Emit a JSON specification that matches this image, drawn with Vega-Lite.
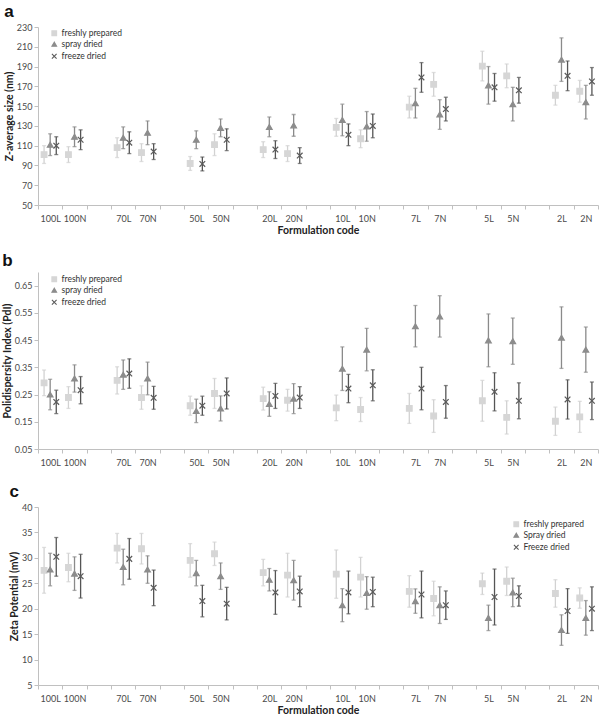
{
  "$schema": "https://vega.github.io/schema/vega-lite/v6.json",
  "padding": {"left": 2, "top": 3, "right": 2, "bottom": 1},
  "spacing": 16,
  "config": {
    "view": {"stroke": null},
    "font": "Lato",
    "title": {"anchor": "start", "fontSize": 17, "font": "Liberation Sans", "fontWeight": "bold", "offset": 2, "color": "#111"},
    "axis": {"domainColor": "#c0c0c0", "tickColor": "#c0c0c0", "labelColor": "#4a4a4a", "labelFont": "Lato", "labelFontSize": 9, "titleFont": "Lato", "titleFontSize": 10.5, "titleFontWeight": "bold", "titleColor": "#222", "grid": false, "tickSize": 4},
    "axisX": {"labelAngle": 0, "tickBand": "extent", "labelPadding": 5, "titlePadding": 2},
    "axisY": {"labelPadding": 2, "titlePadding": 2},
    "legend": {"title": null, "labelFont": "Lato", "labelFontSize": 8.5, "labelColor": "#333", "symbolSize": 22, "rowPadding": 2, "symbolStrokeWidth": 1.1, "labelOffset": 3, "padding": 0}
  },
  "datasets": {
    "a": [
      {"code":"100L","s":"freshly prepared","v":101,"lo":92,"hi":110},
      {"code":"100L","s":"spray dried","v":111,"lo":100,"hi":122},
      {"code":"100L","s":"freeze dried","v":110,"lo":101,"hi":119},
      {"code":"100N","s":"freshly prepared","v":101,"lo":93,"hi":109},
      {"code":"100N","s":"spray dried","v":119,"lo":109,"hi":129},
      {"code":"100N","s":"freeze dried","v":116,"lo":106,"hi":126},
      {"code":"70L","s":"freshly prepared","v":108,"lo":98,"hi":118},
      {"code":"70L","s":"spray dried","v":118,"lo":107,"hi":129},
      {"code":"70L","s":"freeze dried","v":113,"lo":102,"hi":124},
      {"code":"70N","s":"freshly prepared","v":103,"lo":94,"hi":112},
      {"code":"70N","s":"spray dried","v":123,"lo":111,"hi":135},
      {"code":"70N","s":"freeze dried","v":104,"lo":96,"hi":112},
      {"code":"50L","s":"freshly prepared","v":92,"lo":85,"hi":99},
      {"code":"50L","s":"spray dried","v":116,"lo":107,"hi":125},
      {"code":"50L","s":"freeze dried","v":91.5,"lo":84.5,"hi":98.5},
      {"code":"50N","s":"freshly prepared","v":111,"lo":100,"hi":122},
      {"code":"50N","s":"spray dried","v":128,"lo":119,"hi":137},
      {"code":"50N","s":"freeze dried","v":116,"lo":105,"hi":127},
      {"code":"20L","s":"freshly prepared","v":106,"lo":98,"hi":114},
      {"code":"20L","s":"spray dried","v":129,"lo":119,"hi":139},
      {"code":"20L","s":"freeze dried","v":106,"lo":97,"hi":115},
      {"code":"20N","s":"freshly prepared","v":102,"lo":94,"hi":110},
      {"code":"20N","s":"spray dried","v":130.5,"lo":119.5,"hi":141.5},
      {"code":"20N","s":"freeze dried","v":100,"lo":92,"hi":108},
      {"code":"10L","s":"freshly prepared","v":128.5,"lo":119.5,"hi":137.5},
      {"code":"10L","s":"spray dried","v":136,"lo":120,"hi":152},
      {"code":"10L","s":"freeze dried","v":121,"lo":110,"hi":132},
      {"code":"10N","s":"freshly prepared","v":117,"lo":108,"hi":126},
      {"code":"10N","s":"spray dried","v":129.5,"lo":114.5,"hi":144.5},
      {"code":"10N","s":"freeze dried","v":130,"lo":118,"hi":142},
      {"code":"7L","s":"freshly prepared","v":149,"lo":138,"hi":160},
      {"code":"7L","s":"spray dried","v":153,"lo":138,"hi":168},
      {"code":"7L","s":"freeze dried","v":179,"lo":164,"hi":194},
      {"code":"7N","s":"freshly prepared","v":172,"lo":160,"hi":184},
      {"code":"7N","s":"spray dried","v":141.5,"lo":126.5,"hi":156.5},
      {"code":"7N","s":"freeze dried","v":147,"lo":135,"hi":159},
      {"code":"5L","s":"freshly prepared","v":190.5,"lo":175.5,"hi":205.5},
      {"code":"5L","s":"spray dried","v":171,"lo":152,"hi":190},
      {"code":"5L","s":"freeze dried","v":169,"lo":155,"hi":183},
      {"code":"5N","s":"freshly prepared","v":180.6,"lo":168.6,"hi":192.6},
      {"code":"5N","s":"spray dried","v":152,"lo":135,"hi":169},
      {"code":"5N","s":"freeze dried","v":166,"lo":153,"hi":179},
      {"code":"2L","s":"freshly prepared","v":161,"lo":151,"hi":171},
      {"code":"2L","s":"spray dried","v":197,"lo":175,"hi":219},
      {"code":"2L","s":"freeze dried","v":180.6,"lo":165.6,"hi":195.6},
      {"code":"2N","s":"freshly prepared","v":165,"lo":154,"hi":176},
      {"code":"2N","s":"spray dried","v":154,"lo":137,"hi":171},
      {"code":"2N","s":"freeze dried","v":175,"lo":161,"hi":189}
    ],
    "b": [
      {"code":"100L","s":"freshly prepared","v":0.293,"lo":0.246,"hi":0.340},
      {"code":"100L","s":"spray dried","v":0.250,"lo":0.194,"hi":0.306},
      {"code":"100L","s":"freeze dried","v":0.223,"lo":0.180,"hi":0.266},
      {"code":"100N","s":"freshly prepared","v":0.239,"lo":0.199,"hi":0.279},
      {"code":"100N","s":"spray dried","v":0.309,"lo":0.259,"hi":0.359},
      {"code":"100N","s":"freeze dried","v":0.266,"lo":0.216,"hi":0.316},
      {"code":"70L","s":"freshly prepared","v":0.302,"lo":0.252,"hi":0.352},
      {"code":"70L","s":"spray dried","v":0.323,"lo":0.269,"hi":0.377},
      {"code":"70L","s":"freeze dried","v":0.327,"lo":0.273,"hi":0.381},
      {"code":"70N","s":"freshly prepared","v":0.239,"lo":0.196,"hi":0.282},
      {"code":"70N","s":"spray dried","v":0.309,"lo":0.249,"hi":0.369},
      {"code":"70N","s":"freeze dried","v":0.238,"lo":0.196,"hi":0.280},
      {"code":"50L","s":"freshly prepared","v":0.209,"lo":0.174,"hi":0.244},
      {"code":"50L","s":"spray dried","v":0.190,"lo":0.147,"hi":0.233},
      {"code":"50L","s":"freeze dried","v":0.209,"lo":0.174,"hi":0.244},
      {"code":"50N","s":"freshly prepared","v":0.254,"lo":0.199,"hi":0.309},
      {"code":"50N","s":"spray dried","v":0.199,"lo":0.153,"hi":0.245},
      {"code":"50N","s":"freeze dried","v":0.254,"lo":0.197,"hi":0.311},
      {"code":"20L","s":"freshly prepared","v":0.235,"lo":0.193,"hi":0.277},
      {"code":"20L","s":"spray dried","v":0.215,"lo":0.170,"hi":0.260},
      {"code":"20L","s":"freeze dried","v":0.245,"lo":0.199,"hi":0.291},
      {"code":"20N","s":"freshly prepared","v":0.229,"lo":0.189,"hi":0.269},
      {"code":"20N","s":"spray dried","v":0.235,"lo":0.180,"hi":0.290},
      {"code":"20N","s":"freeze dried","v":0.239,"lo":0.199,"hi":0.279},
      {"code":"10L","s":"freshly prepared","v":0.201,"lo":0.154,"hi":0.248},
      {"code":"10L","s":"spray dried","v":0.345,"lo":0.265,"hi":0.425},
      {"code":"10L","s":"freeze dried","v":0.272,"lo":0.220,"hi":0.324},
      {"code":"10N","s":"freshly prepared","v":0.195,"lo":0.151,"hi":0.239},
      {"code":"10N","s":"spray dried","v":0.415,"lo":0.337,"hi":0.493},
      {"code":"10N","s":"freeze dried","v":0.284,"lo":0.227,"hi":0.341},
      {"code":"7L","s":"freshly prepared","v":0.199,"lo":0.144,"hi":0.254},
      {"code":"7L","s":"spray dried","v":0.501,"lo":0.425,"hi":0.577},
      {"code":"7L","s":"freeze dried","v":0.272,"lo":0.194,"hi":0.350},
      {"code":"7N","s":"freshly prepared","v":0.171,"lo":0.111,"hi":0.231},
      {"code":"7N","s":"spray dried","v":0.537,"lo":0.461,"hi":0.613},
      {"code":"7N","s":"freeze dried","v":0.223,"lo":0.163,"hi":0.283},
      {"code":"5L","s":"freshly prepared","v":0.227,"lo":0.152,"hi":0.302},
      {"code":"5L","s":"spray dried","v":0.449,"lo":0.352,"hi":0.546},
      {"code":"5L","s":"freeze dried","v":0.260,"lo":0.190,"hi":0.330},
      {"code":"5N","s":"freshly prepared","v":0.166,"lo":0.105,"hi":0.227},
      {"code":"5N","s":"spray dried","v":0.446,"lo":0.361,"hi":0.531},
      {"code":"5N","s":"freeze dried","v":0.227,"lo":0.161,"hi":0.293},
      {"code":"2L","s":"freshly prepared","v":0.152,"lo":0.100,"hi":0.204},
      {"code":"2L","s":"spray dried","v":0.459,"lo":0.346,"hi":0.572},
      {"code":"2L","s":"freeze dried","v":0.232,"lo":0.160,"hi":0.304},
      {"code":"2N","s":"freshly prepared","v":0.168,"lo":0.111,"hi":0.225},
      {"code":"2N","s":"spray dried","v":0.415,"lo":0.332,"hi":0.498},
      {"code":"2N","s":"freeze dried","v":0.227,"lo":0.158,"hi":0.296}
    ],
    "c": [
      {"code":"100L","s":"freshly prepared","v":27.55,"lo":23.05,"hi":32.05},
      {"code":"100L","s":"spray dried","v":27.7,"lo":24.5,"hi":30.9},
      {"code":"100L","s":"freeze dried","v":30.2,"lo":26.4,"hi":34.0},
      {"code":"100N","s":"freshly prepared","v":28.1,"lo":25.3,"hi":30.9},
      {"code":"100N","s":"spray dried","v":26.9,"lo":23.6,"hi":30.2},
      {"code":"100N","s":"freeze dried","v":26.4,"lo":22.1,"hi":30.7},
      {"code":"70L","s":"freshly prepared","v":31.9,"lo":29.0,"hi":34.8},
      {"code":"70L","s":"spray dried","v":28.2,"lo":24.7,"hi":31.7},
      {"code":"70L","s":"freeze dried","v":29.8,"lo":25.8,"hi":33.8},
      {"code":"70N","s":"freshly prepared","v":31.8,"lo":28.8,"hi":34.8},
      {"code":"70N","s":"spray dried","v":27.7,"lo":25.0,"hi":30.4},
      {"code":"70N","s":"freeze dried","v":24.1,"lo":20.6,"hi":27.6},
      {"code":"50L","s":"freshly prepared","v":29.5,"lo":26.2,"hi":32.8},
      {"code":"50L","s":"spray dried","v":27.0,"lo":24.5,"hi":29.5},
      {"code":"50L","s":"freeze dried","v":21.5,"lo":18.4,"hi":24.6},
      {"code":"50N","s":"freshly prepared","v":30.8,"lo":28.5,"hi":33.1},
      {"code":"50N","s":"spray dried","v":26.4,"lo":23.8,"hi":29.0},
      {"code":"50N","s":"freeze dried","v":21.0,"lo":17.8,"hi":24.2},
      {"code":"20L","s":"freshly prepared","v":27.1,"lo":24.5,"hi":29.7},
      {"code":"20L","s":"spray dried","v":25.7,"lo":23.5,"hi":27.9},
      {"code":"20L","s":"freeze dried","v":23.2,"lo":18.9,"hi":27.5},
      {"code":"20N","s":"freshly prepared","v":26.6,"lo":22.3,"hi":30.9},
      {"code":"20N","s":"spray dried","v":25.6,"lo":21.7,"hi":29.5},
      {"code":"20N","s":"freeze dried","v":23.4,"lo":20.4,"hi":26.4},
      {"code":"10L","s":"freshly prepared","v":26.8,"lo":22.05,"hi":31.55},
      {"code":"10L","s":"spray dried","v":20.7,"lo":17.45,"hi":23.95},
      {"code":"10L","s":"freeze dried","v":23.2,"lo":19.0,"hi":27.4},
      {"code":"10N","s":"freshly prepared","v":26.2,"lo":22.3,"hi":30.1},
      {"code":"10N","s":"spray dried","v":23.1,"lo":19.9,"hi":26.3},
      {"code":"10N","s":"freeze dried","v":23.3,"lo":20.4,"hi":26.2},
      {"code":"7L","s":"freshly prepared","v":23.4,"lo":20.3,"hi":26.5},
      {"code":"7L","s":"spray dried","v":21.5,"lo":19.1,"hi":23.9},
      {"code":"7L","s":"freeze dried","v":22.8,"lo":18.2,"hi":27.4},
      {"code":"7N","s":"freshly prepared","v":22.0,"lo":18.6,"hi":25.4},
      {"code":"7N","s":"spray dried","v":20.7,"lo":17.1,"hi":24.3},
      {"code":"7N","s":"freeze dried","v":20.7,"lo":17.9,"hi":23.5},
      {"code":"5L","s":"freshly prepared","v":24.9,"lo":22.8,"hi":27.0},
      {"code":"5L","s":"spray dried","v":18.2,"lo":15.7,"hi":20.7},
      {"code":"5L","s":"freeze dried","v":22.3,"lo":16.8,"hi":27.8},
      {"code":"5N","s":"freshly prepared","v":25.4,"lo":22.6,"hi":28.2},
      {"code":"5N","s":"spray dried","v":23.2,"lo":20.4,"hi":26.0},
      {"code":"5N","s":"freeze dried","v":22.5,"lo":20.5,"hi":24.5},
      {"code":"2L","s":"freshly prepared","v":23.0,"lo":20.3,"hi":25.7},
      {"code":"2L","s":"spray dried","v":15.8,"lo":12.8,"hi":18.8},
      {"code":"2L","s":"freeze dried","v":19.55,"lo":15.15,"hi":23.95},
      {"code":"2N","s":"freshly prepared","v":22.1,"lo":20.1,"hi":24.1},
      {"code":"2N","s":"spray dried","v":18.2,"lo":14.8,"hi":21.6},
      {"code":"2N","s":"freeze dried","v":20.0,"lo":15.7,"hi":24.3}
    ]
  },
  "vconcat": [
    {
      "title": "a",
      "width": 560, "height": 178,
      "data": {"name": "a"},
      "encoding": {
        "x": {"field": "code", "type": "nominal", "sort": null,
          "scale": {"domain": ["100L","100N","_1","70L","70N","_2","50L","50N","_3","20L","20N","_4","10L","10N","_5","7L","7N","_6","5L","5N","_7","2L","2N"], "paddingInner": 0, "paddingOuter": 0},
          "axis": {"title": "Formulation code", "labelExpr": "substring(datum.label,0,1)=='_' ? '' : datum.label"}},
        "xOffset": {"field": "s", "type": "nominal", "scale": {"type": "point", "domain": ["freshly prepared","spray dried","freeze dried"], "padding": 1.43}}
      },
      "layer": [
        {"mark": {"type": "rule", "strokeWidth": 1.3},
         "encoding": {
           "y": {"field": "lo", "type": "quantitative", "scale": {"domain": [50, 230], "nice": false, "zero": false}, "axis": {"title": "Z-average size (nm)", "values": [50,70,90,110,130,150,170,190,210,230]}},
           "y2": {"field": "hi"},
           "color": {"field": "s", "type": "nominal", "scale": {"domain": ["freshly prepared","spray dried","freeze dried"], "range": ["#d2d2d2","#8a8a8a","#555555"]}, "legend": null}}},
        {"mark": {"type": "tick", "thickness": 1.3, "size": 4},
         "encoding": {
           "y": {"field": "lo", "type": "quantitative", "axis": {"title": "Z-average size (nm)", "values": [50,70,90,110,130,150,170,190,210,230]}},
           "color": {"field": "s", "type": "nominal", "legend": null}}},
        {"mark": {"type": "tick", "thickness": 1.3, "size": 4},
         "encoding": {
           "y": {"field": "hi", "type": "quantitative", "axis": {"title": "Z-average size (nm)", "values": [50,70,90,110,130,150,170,190,210,230]}},
           "color": {"field": "s", "type": "nominal", "legend": null}}},
        {"mark": {"type": "point", "filled": true, "size": 32, "opacity": 1, "strokeWidth": 1.2},
         "encoding": {
           "y": {"field": "v", "type": "quantitative", "axis": {"title": "Z-average size (nm)", "values": [50,70,90,110,130,150,170,190,210,230]}},
           "fill": {"field": "s", "type": "nominal", "scale": {"domain": ["freshly prepared","spray dried","freeze dried"], "range": ["#d6d6d6","#8c8c8c","#5a5a5a"]}, "legend": {"orient": "top-left", "offset": 2, "symbolOffset": 10}},
           "stroke": {"field": "s", "type": "nominal", "scale": {"domain": ["freshly prepared","spray dried","freeze dried"], "range": ["#d6d6d6","#8c8c8c","#5a5a5a"]}, "legend": {"orient": "top-left", "offset": 2, "symbolOffset": 10}},
           "shape": {"field": "s", "type": "nominal", "scale": {"domain": ["freshly prepared","spray dried","freeze dried"], "range": ["square","triangle-up","M-1,-1L1,1M-1,1L1,-1"]}, "legend": {"orient": "top-left", "offset": 2, "symbolOffset": 10}}}}
      ]
    },
    {
      "title": "b",
      "width": 560, "height": 177,
      "data": {"name": "b"},
      "encoding": {
        "x": {"field": "code", "type": "nominal", "sort": null,
          "scale": {"domain": ["100L","100N","_1","70L","70N","_2","50L","50N","_3","20L","20N","_4","10L","10N","_5","7L","7N","_6","5L","5N","_7","2L","2N"], "paddingInner": 0, "paddingOuter": 0},
          "axis": {"title": null, "labelExpr": "substring(datum.label,0,1)=='_' ? '' : datum.label"}},
        "xOffset": {"field": "s", "type": "nominal", "scale": {"type": "point", "domain": ["freshly prepared","spray dried","freeze dried"], "padding": 1.43}}
      },
      "layer": [
        {"mark": {"type": "rule", "strokeWidth": 1.3},
         "encoding": {
           "y": {"field": "lo", "type": "quantitative", "scale": {"domain": [0.05, 0.7], "nice": false, "zero": false}, "axis": {"title": "Polidispersity Index (PdI)", "format": ".2f", "values": [0.05,0.15,0.25,0.35,0.45,0.55,0.65]}},
           "y2": {"field": "hi"},
           "color": {"field": "s", "type": "nominal", "scale": {"domain": ["freshly prepared","spray dried","freeze dried"], "range": ["#d2d2d2","#8a8a8a","#555555"]}, "legend": null}}},
        {"mark": {"type": "tick", "thickness": 1.3, "size": 4},
         "encoding": {
           "y": {"field": "lo", "type": "quantitative", "axis": {"title": "Polidispersity Index (PdI)", "format": ".2f", "values": [0.05,0.15,0.25,0.35,0.45,0.55,0.65]}},
           "color": {"field": "s", "type": "nominal", "legend": null}}},
        {"mark": {"type": "tick", "thickness": 1.3, "size": 4},
         "encoding": {
           "y": {"field": "hi", "type": "quantitative", "axis": {"title": "Polidispersity Index (PdI)", "format": ".2f", "values": [0.05,0.15,0.25,0.35,0.45,0.55,0.65]}},
           "color": {"field": "s", "type": "nominal", "legend": null}}},
        {"mark": {"type": "point", "filled": true, "size": 32, "opacity": 1, "strokeWidth": 1.2},
         "encoding": {
           "y": {"field": "v", "type": "quantitative", "axis": {"title": "Polidispersity Index (PdI)", "format": ".2f", "values": [0.05,0.15,0.25,0.35,0.45,0.55,0.65]}},
           "fill": {"field": "s", "type": "nominal", "scale": {"domain": ["freshly prepared","spray dried","freeze dried"], "range": ["#d6d6d6","#8c8c8c","#5a5a5a"]}, "legend": {"orient": "top-left", "offset": 3, "symbolOffset": 9}},
           "stroke": {"field": "s", "type": "nominal", "scale": {"domain": ["freshly prepared","spray dried","freeze dried"], "range": ["#d6d6d6","#8c8c8c","#5a5a5a"]}, "legend": {"orient": "top-left", "offset": 3, "symbolOffset": 9}},
           "shape": {"field": "s", "type": "nominal", "scale": {"domain": ["freshly prepared","spray dried","freeze dried"], "range": ["square","triangle-up","M-1,-1L1,1M-1,1L1,-1"]}, "legend": {"orient": "top-left", "offset": 3, "symbolOffset": 9}}}}
      ]
    },
    {
      "title": "c",
      "width": 560, "height": 178,
      "data": {"name": "c"},
      "encoding": {
        "x": {"field": "code", "type": "nominal", "sort": null,
          "scale": {"domain": ["100L","100N","_1","70L","70N","_2","50L","50N","_3","20L","20N","_4","10L","10N","_5","7L","7N","_6","5L","5N","_7","2L","2N"], "paddingInner": 0, "paddingOuter": 0},
          "axis": {"title": "Formulation code", "labelExpr": "substring(datum.label,0,1)=='_' ? '' : datum.label"}},
        "xOffset": {"field": "s", "type": "nominal", "scale": {"type": "point", "domain": ["freshly prepared","spray dried","freeze dried"], "padding": 1.43}}
      },
      "layer": [
        {"mark": {"type": "rule", "strokeWidth": 1.3},
         "encoding": {
           "y": {"field": "lo", "type": "quantitative", "scale": {"domain": [5, 40], "nice": false, "zero": false}, "axis": {"title": "Zeta Potential (mV)", "values": [5,10,15,20,25,30,35,40]}},
           "y2": {"field": "hi"},
           "color": {"field": "s", "type": "nominal", "scale": {"domain": ["freshly prepared","spray dried","freeze dried"], "range": ["#d2d2d2","#8a8a8a","#555555"]}, "legend": null}}},
        {"mark": {"type": "tick", "thickness": 1.3, "size": 4},
         "encoding": {
           "y": {"field": "lo", "type": "quantitative", "axis": {"title": "Zeta Potential (mV)", "values": [5,10,15,20,25,30,35,40]}},
           "color": {"field": "s", "type": "nominal", "legend": null}}},
        {"mark": {"type": "tick", "thickness": 1.3, "size": 4},
         "encoding": {
           "y": {"field": "hi", "type": "quantitative", "axis": {"title": "Zeta Potential (mV)", "values": [5,10,15,20,25,30,35,40]}},
           "color": {"field": "s", "type": "nominal", "legend": null}}},
        {"mark": {"type": "point", "filled": true, "size": 32, "opacity": 1, "strokeWidth": 1.2},
         "encoding": {
           "y": {"field": "v", "type": "quantitative", "axis": {"title": "Zeta Potential (mV)", "values": [5,10,15,20,25,30,35,40]}},
           "fill": {"field": "s", "type": "nominal", "scale": {"domain": ["freshly prepared","spray dried","freeze dried"], "range": ["#d6d6d6","#8c8c8c","#5a5a5a"]}, "legend": {"orient": "top-right", "offset": 13, "labelExpr": "datum.label=='spray dried' ? 'Spray dried' : datum.label=='freeze dried' ? 'Freeze dried' : datum.label"}},
           "stroke": {"field": "s", "type": "nominal", "scale": {"domain": ["freshly prepared","spray dried","freeze dried"], "range": ["#d6d6d6","#8c8c8c","#5a5a5a"]}, "legend": {"orient": "top-right", "offset": 13, "labelExpr": "datum.label=='spray dried' ? 'Spray dried' : datum.label=='freeze dried' ? 'Freeze dried' : datum.label"}},
           "shape": {"field": "s", "type": "nominal", "scale": {"domain": ["freshly prepared","spray dried","freeze dried"], "range": ["square","triangle-up","M-1,-1L1,1M-1,1L1,-1"]}, "legend": {"orient": "top-right", "offset": 13, "labelExpr": "datum.label=='spray dried' ? 'Spray dried' : datum.label=='freeze dried' ? 'Freeze dried' : datum.label"}}}}
      ]
    }
  ]
}
